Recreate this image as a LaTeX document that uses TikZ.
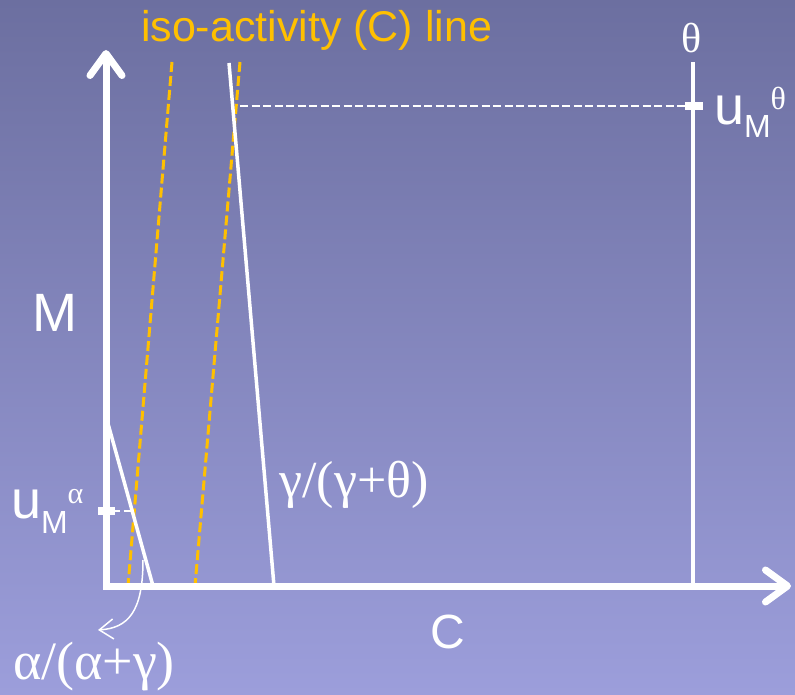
\documentclass[tikz,border=0pt]{standalone}
\usepackage{fontspec}
\setmainfont{Liberation Sans}
\newfontfamily\greekfont{Liberation Serif}
\usetikzlibrary{arrows.meta}
\definecolor{bgtop}{RGB}{108,111,160}
\definecolor{bgbottom}{RGB}{156,158,219}
\definecolor{isoorange}{RGB}{255,192,0}
\newcommand{\fs}[1]{\fontsize{#1}{#1}\selectfont}
\begin{document}
\begin{tikzpicture}[x=1pt,y=-1pt,
  every node/.style={inner sep=0pt, outer sep=0pt, text=white},
  axisline/.style={white, line width=7pt, -{Straight Barb[length=22pt,width=32pt,round]}},
  modeline/.style={white, line width=3.5pt},
  isoline/.style={isoorange, line width=3pt, dash pattern=on 10pt off 4pt},
  guideline/.style={white, line width=2.5pt, dash pattern=on 8pt off 3.5pt}]
% background
\shade[top color=bgtop, bottom color=bgbottom] (0,0) rectangle (795,695);
\useasboundingbox (0,0) rectangle (795,695);
\coordinate (O) at (106,586);
\coordinate (Ytop) at (106,50);
\coordinate (Xend) at (791,586);
% iso-activity lines
\draw[isoline] (172,62) -- (128,586);
\draw[isoline] (240,62) -- (195,586);
% threshold lines
\draw[modeline] (107,420) -- (153,586);
\draw[modeline] (229,63) -- (274,586);
\draw[white, line width=4pt] (693,62) -- (693,586);
% dashed guides and ticks
\draw[guideline] (240,106) -- (688,106);
\draw[guideline] (112,511) -- (134,511);
\fill[white] (685,102) rectangle (703,110);
\fill[white] (98,507) rectangle (115,515);
% axes
\draw[axisline, line cap=rect] (O) -- (Ytop);
\draw[axisline, line cap=rect] (O) -- (Xend);
% labels
\node[text=isoorange, anchor=base west] (iso) at (141,42) {\fs{43}iso-activity (C) line};
\node (M) at (55,313) {\fs{54}M};
\node (C) at (448,632) {\fs{48}C};
\node (theta) at (692,38) {\fs{42}\greekfont θ};
\node[anchor=base west] (umtheta) at (714,125) {\fs{54}u\raisebox{-13pt}{\fs{32}M}\raisebox{15pt}{\fs{32}\greekfont θ}};
\node[anchor=base west] (umalpha) at (11,518) {\fs{54}u\raisebox{-15pt}{\fs{32}M}\raisebox{15pt}{\fs{30}\greekfont α}};
\node (gammaline) at (354,485) {\fs{52}\greekfont γ/(γ+θ)};
\node (alphaline) at (94,667) {\fs{54}\greekfont α/(α+γ)};
\coordinate (pointer) at (143,560);
\draw[white, line width=1.5pt, -{Straight Barb[length=14pt,width=20pt]}]
  (pointer) .. controls (143,612) and (128,628) .. (98,630);
\end{tikzpicture}
\end{document}
